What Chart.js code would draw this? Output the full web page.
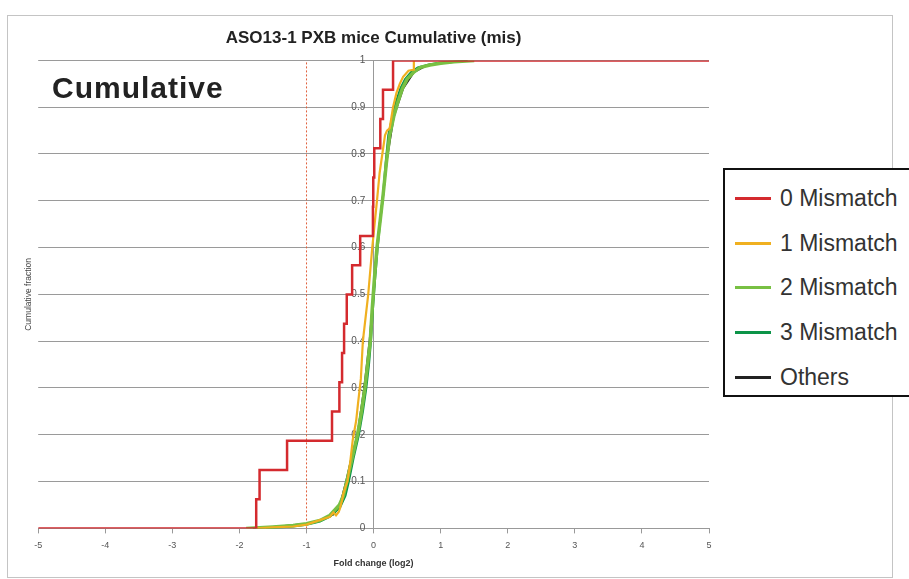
<!DOCTYPE html>
<html>
<head>
<meta charset="utf-8">
<script src="https://cdn.jsdelivr.net/npm/chart.js@4.4.1/dist/chart.umd.min.js"></script>
<style>
  body { margin: 0; background: #fff; }
  #wrap { position: relative; width: 909px; height: 579px; overflow: hidden; }
  #big {
    position: absolute; left: 52px; top: 71px;
    font: bold 30px "Liberation Sans", Arial, sans-serif; letter-spacing: 1px; color: #222;
  }
  #legend {
    position: absolute; left: 723px; top: 168px; width: 200px; height: 225px;
    border: 2px solid #111; background: #fff; box-sizing: content-box;
    padding: 0; margin: 0; list-style: none;
  }
  #legend li {
    display: flex; align-items: center; height: 44.8px; margin-left: 10px;
    font: 23px "Liberation Sans", Arial, sans-serif; color: #333; white-space: nowrap;
  }
  #legend li:first-child { margin-top: 6px; }
  #legend li span.swatch { display: inline-block; width: 36px; height: 3px; margin-right: 9px; }
</style>
</head>
<body>
<div id="wrap">
  <canvas id="cdf-chart" width="909" height="579"></canvas>
  <div id="big">Cumulative</div>
  <ul id="legend"></ul>
</div>
<script>
// fold change (log2) and cumulative fraction for each group
const mis0X = [-5, -1.75, -1.70, -1.29, -0.62, -0.51, -0.47, -0.44, -0.40, -0.32, -0.20, -0.01, -0.005, 0.01, 0.10, 0.14, 0.29, 5];
const mis0Y = [0, 0.0625, 0.125, 0.1875, 0.25, 0.3125, 0.375, 0.4375, 0.5, 0.5625, 0.625, 0.6875, 0.75, 0.8125, 0.875, 0.9375, 1, 1];

const mis1X = [-1.75, -1.5, -1.2, -1.0, -0.80, -0.65, -0.60, -0.56, -0.52, -0.50, -0.47, -0.45, -0.42, -0.39, -0.35, -0.31, -0.26, -0.23, -0.19, -0.16, -0.08, -0.02, 0.05, 0.09, 0.13, 0.17, 0.20, 0.24, 0.29, 0.34, 0.39, 0.44, 0.52, 0.59, 0.60, 0.62];
const mis1Y = [0, 0.002, 0.004, 0.008, 0.018, 0.025, 0.034, 0.028, 0.035, 0.043, 0.06, 0.075, 0.088, 0.10, 0.14, 0.19, 0.23, 0.27, 0.32, 0.40, 0.50, 0.60, 0.70, 0.76, 0.80, 0.84, 0.85, 0.855, 0.90, 0.93, 0.95, 0.965, 0.978, 0.98, 1.0, 1.0];

const mis2X = [-1.9, -1.5, -1.2, -1.0, -0.8, -0.65, -0.51, -0.45, -0.40, -0.32, -0.24, -0.18, -0.13, -0.09, -0.05, -0.02, 0.01, 0.05, 0.10, 0.14, 0.19, 0.24, 0.30, 0.36, 0.43, 0.50, 0.60, 0.70, 0.84, 1.0, 1.2, 1.5];
const mis2Y = [0, 0.003, 0.006, 0.01, 0.017, 0.028, 0.05, 0.07, 0.10, 0.15, 0.20, 0.25, 0.30, 0.35, 0.40, 0.47, 0.53, 0.60, 0.66, 0.71, 0.78, 0.84, 0.88, 0.91, 0.94, 0.96, 0.975, 0.985, 0.99, 0.994, 0.997, 1.0];

const mis3X = [-1.6, -1.2, -1.0, -0.8, -0.65, -0.50, -0.42, -0.37, -0.30, -0.22, -0.16, -0.11, -0.07, -0.04, -0.01, 0.02, 0.06, 0.10, 0.14, 0.18, 0.22, 0.28, 0.33, 0.40, 0.47, 0.56, 0.66, 0.80, 0.95, 1.15, 1.4];
const mis3Y = [0, 0.004, 0.008, 0.015, 0.025, 0.045, 0.07, 0.10, 0.15, 0.20, 0.25, 0.30, 0.35, 0.40, 0.47, 0.53, 0.60, 0.66, 0.71, 0.78, 0.84, 0.88, 0.91, 0.94, 0.96, 0.975, 0.985, 0.99, 0.994, 0.997, 1.0];

const othersX = [-1.8, -1.4, -1.0, -0.8, -0.6, -0.50, -0.41, -0.33, -0.24, -0.14, -0.06, 0.0, 0.05, 0.14, 0.20, 0.30, 0.44, 0.60, 0.80, 1.0, 1.4];
const othersY = [0, 0.004, 0.01, 0.017, 0.03, 0.05, 0.10, 0.15, 0.20, 0.30, 0.40, 0.50, 0.60, 0.71, 0.79, 0.88, 0.94, 0.975, 0.99, 0.994, 1.0];

// reference line at a two-fold decrease
const cutoffX = [-1, -1];
const cutoffY = [0, 1];

const xTicks = { min: -5, max: 5, step: 1 };
const yTicks = { min: 0, max: 1, step: 0.1 };

function toPoints(xs, ys) {
    return xs.map((x, i) => ({ x: x, y: ys[i] }));
}

const frame = {
    id: 'frame',
    beforeDraw(chart) {
        const ctx = chart.ctx;
        ctx.save();
        ctx.fillStyle = '#fff';
        ctx.fillRect(0, 0, chart.width, chart.height);
        ctx.strokeStyle = '#c4c4c4';
        ctx.lineWidth = 1;
        ctx.strokeRect(7.5, 15.5, 885, 562);
        ctx.restore();
    }
};

const htmlLegend = {
    id: 'htmlLegend',
    afterUpdate(chart) {
        const ul = document.getElementById('legend');
        ul.innerHTML = '';
        const items = chart.options.plugins.legend.labels.generateLabels(chart)
            .filter(item => item.text !== 'cutoff');
        items.forEach(item => {
            const li = document.createElement('li');
            const sw = document.createElement('span');
            sw.className = 'swatch';
            sw.style.background = item.strokeStyle;
            li.appendChild(sw);
            li.appendChild(document.createTextNode(item.text));
            ul.appendChild(li);
        });
    }
};

const ctx = document.getElementById('cdf-chart');
const cdfChart = new Chart(ctx, {
    type: 'line',
    data: {
        datasets: [
            { label: '0 Mismatch', data: toPoints(mis0X, mis0Y), borderColor: '#d42a2e', borderWidth: 2.5, stepped: 'before' },
            { label: '1 Mismatch', data: toPoints(mis1X, mis1Y), borderColor: '#f0b020', borderWidth: 2.2 },
            { label: '2 Mismatch', data: toPoints(mis2X, mis2Y), borderColor: '#78c043', borderWidth: 3.5 },
            { label: '3 Mismatch', data: toPoints(mis3X, mis3Y), borderColor: '#0c9448', borderWidth: 2.2 },
            { label: 'Others', data: toPoints(othersX, othersY), borderColor: '#222222', borderWidth: 2 },
            { label: 'cutoff', data: toPoints(cutoffX, cutoffY), borderColor: '#e0603c', borderWidth: 1, borderDash: [2, 2] }
        ]
    },
    options: {
        responsive: false,
        animation: false,
        elements: { point: { radius: 0 }, line: { tension: 0, fill: false } },
        layout: { padding: { left: 20, right: 200, top: 18, bottom: 6 } },
        scales: {
            x: {
                type: 'linear',
                position: 'bottom',
                min: xTicks.min,
                max: xTicks.max,
                ticks: { stepSize: xTicks.step, color: '#555', padding: 7, font: { family: 'Liberation Sans', size: 9 } },
                grid: { drawOnChartArea: false, drawTicks: true, tickLength: 5, color: '#999' },
                border: { color: '#999' },
                title: { display: true, text: 'Fold change (log2)', color: '#333', padding: { top: 0, bottom: 4 }, font: { family: 'Liberation Sans', size: 9, weight: 'bold' } }
            },
            y: {
                type: 'linear',
                position: { x: 0 },
                min: yTicks.min,
                max: yTicks.max,
                ticks: {
                    stepSize: yTicks.step,
                    color: '#555',
                    font: { family: 'Liberation Sans', size: 10 },
                    // labels sit just left of the centre axis
                    callback: value => String(Math.round(value * 10) / 10) + '   '
                },
                grid: { color: '#9a9a9a', drawTicks: false },
                border: { color: '#999' }
            },
            yTitle: {
                type: 'linear',
                position: 'left',
                min: yTicks.min,
                max: yTicks.max,
                ticks: { display: false },
                grid: { display: false, drawTicks: false },
                border: { display: false },
                title: { display: true, text: 'Cumulative fraction', color: '#444', font: { family: 'Liberation Sans', size: 8.5 } }
            }
        },
        plugins: {
            legend: { display: false },
            tooltip: { enabled: false },
            title: {
                display: true,
                fullSize: false,
                text: 'ASO13-1 PXB mice Cumulative (mis)',
                color: '#222',
                padding: { top: 10, bottom: 12 },
                font: { family: 'Liberation Sans', size: 17, weight: 'bold' }
            }
        }
    },
    plugins: [frame, htmlLegend]
});
</script>
</body>
</html>
